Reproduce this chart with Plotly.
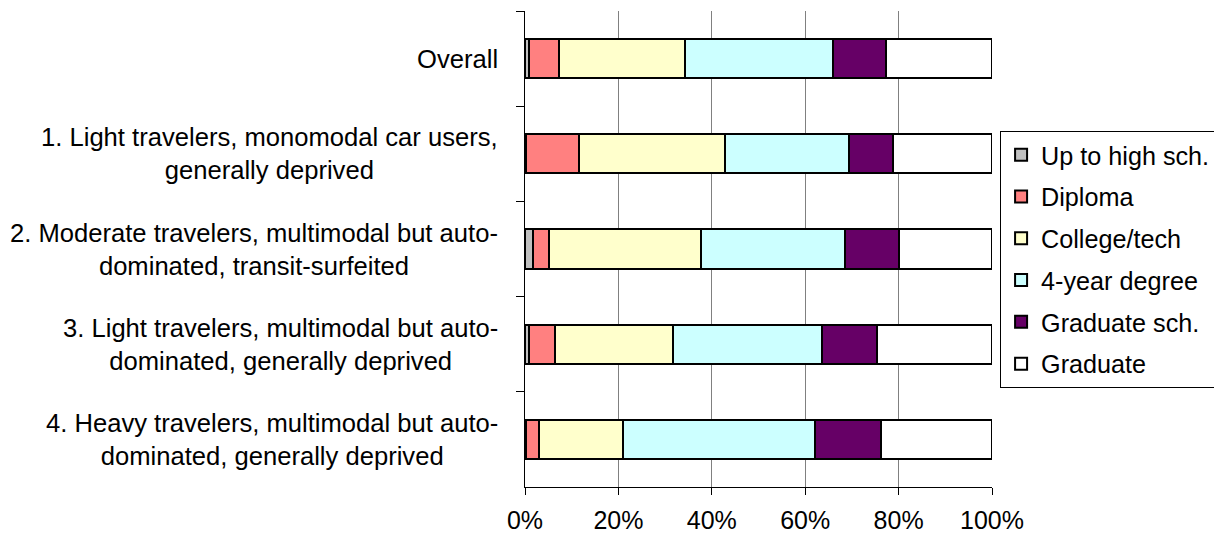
import plotly.graph_objects as go

categories = [
    "Overall",
    "1. Light travelers, monomodal car users,<br>generally deprived",
    "2. Moderate travelers, multimodal but auto-<br>dominated, transit-surfeited",
    "3. Light travelers, multimodal but auto-<br>dominated, generally deprived",
    "4. Heavy travelers, multimodal but auto-<br>dominated, generally deprived",
]
series_names = ["Up to high sch.", "Diploma", "College/tech", "4-year degree", "Graduate sch.", "Graduate"]
up_to_high = [0.8, 0.3, 1.7, 0.8, 0.3]
diploma = [6.5, 11.2, 3.4, 5.6, 2.6]
college = [27.0, 31.3, 32.6, 25.2, 18.0]
four_year = [31.6, 26.5, 30.8, 32.1, 41.2]
grad_sch = [11.3, 9.5, 11.6, 11.7, 14.1]
graduate = [22.8, 21.2, 19.9, 24.6, 23.8]
x_ticks = [0, 20, 40, 60, 80, 100]

colors = ["#C0C0C0", "#FF8080", "#FFFFCC", "#CCFFFF", "#660066", "#FFFFFF"]
values = [up_to_high, diploma, college, four_year, grad_sch, graduate]

FONT = "Arial, Liberation Sans, sans-serif"
fig = go.Figure()
for i, (name, vals, col) in enumerate(zip(series_names, values, colors)):
    fig.add_trace(go.Bar(
        y=categories, x=vals, name=name, orientation="h",
        marker=dict(color=col, line=dict(color="black", width=2)),
        legendgroup=f"g{i}",
    ))

for c in categories:
    fig.add_annotation(
        x=0, xref="paper", y=c, yref="y", xshift=-25,
        text=c, showarrow=False, xanchor="right", yanchor="middle", align="center",
        font=dict(family=FONT, size=25.6, color="black"),
    )

fig.update_layout(
    barmode="stack",
    bargap=0.587,
    width=1214, height=540,
    margin=dict(l=525, r=222, t=11, b=53, autoexpand=False),
    paper_bgcolor="white", plot_bgcolor="white",
    font=dict(family=FONT, size=25, color="black"),
    legend=dict(
        x=1.0173, y=0.748, xanchor="left", yanchor="top",
        bordercolor="black", borderwidth=1, bgcolor="white",
        font=dict(family=FONT, size=25.2, color="black"),
        tracegroupgap=6, traceorder="grouped",
    ),
    showlegend=True,
)
fig.update_xaxes(
    range=[0, 100], tickvals=x_ticks, ticktext=[f"{v}%" for v in x_ticks],
    showgrid=True, gridcolor="#808080", gridwidth=1,
    showline=True, linecolor="black", linewidth=1,
    ticks="outside", ticklen=7, tickcolor="black", ticklabelstandoff=4,
    zeroline=False, fixedrange=True,
)
fig.update_yaxes(
    categoryorder="array", categoryarray=categories, autorange="reversed",
    showticklabels=False, showgrid=False,
    showline=True, linecolor="black", linewidth=1,
    ticks="outside", ticklen=8, tickcolor="black", tickson="boundaries",
    zeroline=False, fixedrange=True,
)
fig.write_html("out.html", config={"displayModeBar": False},
               post_script="document.body.style.margin='0px';")
